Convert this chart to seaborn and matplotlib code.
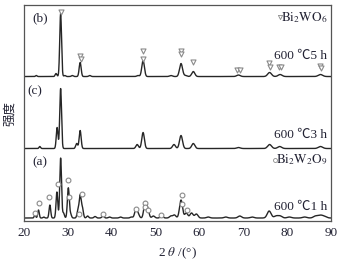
import numpy as np
import pandas as pd
import matplotlib
matplotlib.use("Agg")
import matplotlib.pyplot as plt
import seaborn as sns

# peak lists: 2theta (deg), height (px above baseline)
peaks_b = [(22.8, 1), (27.3, 3), (28.35, 63), (29.3, 1), (31.0, 1), (32.8, 14),
           (35.0, 1), (46.0, 1), (47.15, 16), (53.5, 1), (55.8, 13), (56.8, 1),
           (58.6, 5), (68.9, 1.5), (76.0, 4), (78.4, 2), (87.6, 2)]
peaks_c = [(23.6, 2), (27.55, 21), (28.35, 60), (32.0, 5), (32.8, 18), (45.8, 4),
           (47.15, 16), (54.2, 4), (55.8, 13), (58.6, 5), (68.9, 1), (76.0, 4),
           (78.3, 2), (87.6, 2)]
peaks_a = [(22.5, 3), (23.3, 8), (24.5, 1), (25.9, 13), (27.5, 26), (28.35, 60),
           (29.0, 5), (30.1, 30), (30.6, 4), (32.3, 7), (32.8, 22), (33.3, 10),
           (34.5, 2), (36.2, 1.5), (38.0, 2), (39.5, 1), (42.0, 1), (44.5, 1),
           (45.5, 8), (46.0, 4), (47.6, 15), (48.2, 9), (49.5, 2), (51.4, 2),
           (53.5, 2), (54.3, 3), (55.8, 18), (57.0, 5), (58.2, 5), (59.3, 4),
           (62.0, 1), (66.0, 1), (69.2, 2), (72.0, 1), (75.9, 7), (77.5, 2),
           (78.4, 2), (80.5, 1), (84.0, 1), (86.5, 2), (87.6, 2.5), (88.5, 1.5)]
base_b, base_c, base_a = 144.5, 72.5, 3

# phase markers (2theta, height)
tri_x = [28.35, 32.8, 32.9, 47.15, 47.15, 55.8, 55.9, 58.6, 68.6, 69.2,
         75.9, 76.1, 78.1, 78.7, 87.5, 87.7]
tri_y = [209, 165, 162, 170, 162, 170, 167, 159, 151, 151,
         158, 154, 154, 154, 155, 153]
circ_x = [22.5, 23.5, 25.8, 27.7, 30.0, 30.2, 33.2, 32.5, 38.1, 45.5,
          47.7, 47.7, 48.3, 51.3, 56.0, 56.0, 57.2]
circ_y = [7.7, 17.7, 23.7, 36.7, 40.7, 23.7, 27.3, 6.7, 6.7, 12.3,
          18.0, 14.5, 11.5, 6.3, 26.0, 17.3, 10.7]

xticks = [20, 30, 40, 50, 60, 70, 80, 90]


def pattern(peaks, base, x):
    y = np.full_like(x, base, dtype=float)
    for p, h in peaks:
        s = 0.16 + 0.005 * (p - 20)
        y += h * np.exp(-0.5 * ((x - p) / s) ** 2)
    return y


sns.set_style("white")
plt.rcParams['font.family'] = ['Liberation Serif', 'Noto Sans CJK SC']
plt.rcParams['mathtext.fontset'] = 'stix'

x = np.arange(20, 90.001, 0.02)
rows = []
for name, pk, b in [("b", peaks_b, base_b), ("c", peaks_c, base_c), ("a", peaks_a, base_a)]:
    rows.append(pd.DataFrame({"tt": x, "I": pattern(pk, b, x), "s": name}))
df = pd.concat(rows)

fig = plt.figure(figsize=(3.43, 2.65), dpi=100)
ax = fig.add_axes([0.070, 0.166, 0.895, 0.815])

line_col = "#262626"
for name in ["b", "c", "a"]:
    sns.lineplot(data=df[df.s == name], x="tt", y="I", ax=ax, color=line_col,
                 linewidth=1.0, estimator=None, sort=False)

mk = "#8a8a8a"
ax.scatter(tri_x, tri_y, marker="v", s=13, facecolors="white", edgecolors=mk,
           linewidths=0.8, zorder=3)
ax.scatter(circ_x, circ_y, marker="o", s=12, facecolors="white", edgecolors=mk,
           linewidths=0.8, zorder=3)

ax.set_xlim(20, 90)
ax.set_ylim(0, 216)
ax.set_xticks(xticks)
ax.set_yticks([])
ax.tick_params(axis="x", direction="in", length=2.5, width=0.6, pad=4,
               labelsize=9.5, colors="#222233")
for sp in ax.spines.values():
    sp.set_color("#555555")
    sp.set_linewidth(0.9)

tc = "#222233"
fs = 9.5
ax.text(21.8, 203, "(b)", fontsize=fs, color=tc, va="center", ha="left")
ax.text(20.8, 130, "(c)", fontsize=fs, color=tc, va="center", ha="left")
ax.text(21.8, 59, "(a)", fontsize=fs, color=tc, va="center", ha="left")

ax.scatter([78.3], [204], marker="v", s=9, facecolors="white", edgecolors=mk,
           linewidths=0.6)
ax.text(89.2, 203, r"$\mathrm{Bi_2WO_6}$", fontsize=fs, color=tc, va="center", ha="right")
ax.scatter([77.3], [61.5], marker="o", s=8, facecolors="white", edgecolors=mk,
           linewidths=0.6)
ax.text(89.2, 61, r"$\mathrm{Bi_2W_2O_9}$", fontsize=fs, color=tc, va="center", ha="right")

ax.text(89.2, 165, "600 ℃5 h", fontsize=fs, color=tc, va="center", ha="right")
ax.text(89.2, 86, "600 ℃3 h", fontsize=fs, color=tc, va="center", ha="right")
ax.text(89.2, 14, "600 ℃1 h", fontsize=fs, color=tc, va="center", ha="right")

ax.set_xlabel(r"2 $\it{\theta}$ /(°)", fontsize=fs, color=tc, labelpad=5)
ax.set_ylabel("强度", fontsize=9, color=tc, family=['Noto Sans CJK SC'], labelpad=6)

fig.savefig("out.png", dpi=100)
